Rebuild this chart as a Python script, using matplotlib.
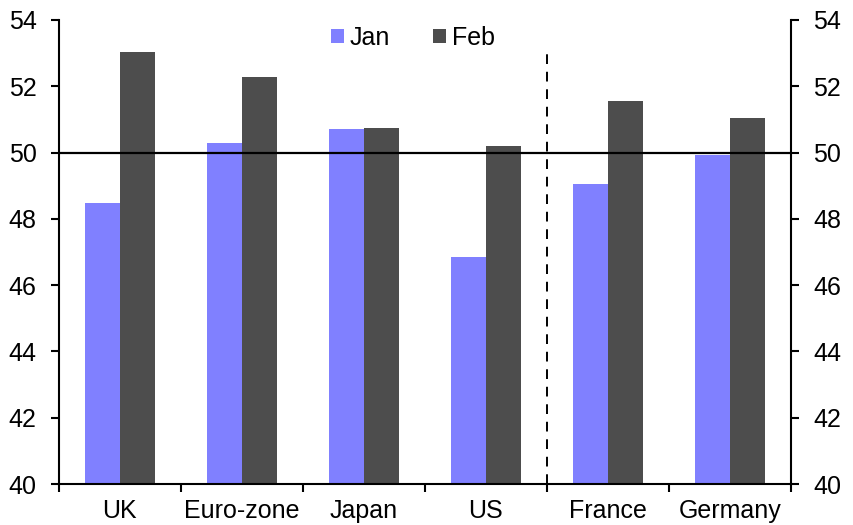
import numpy as np
import matplotlib.pyplot as plt

plt.rcParams['font.family'] = ['Liberation Sans', 'DejaVu Sans']

# data
countries = ["UK", "Euro-zone", "Japan", "US", "France", "Germany"]
jan = [48.48, 50.29, 50.71, 46.85, 49.05, 49.93]
feb = [53.03, 52.28, 50.74, 50.2, 51.56, 51.04]

jan_color = "#8080FF"
feb_color = "#4D4D4D"

fig = plt.figure(figsize=(8.54, 5.25), dpi=100)
ax = fig.add_axes([0.069, 0.078, 0.857, 0.884])

x = np.arange(len(countries))
w = 0.285
ax.bar(x - w/2, jan, w, color=jan_color, label="Jan", zorder=2)
ax.bar(x + w/2, feb, w, color=feb_color, label="Feb", zorder=2)

ax.set_xlim(-0.5, len(countries) - 0.5)
ax.set_ylim(40, 54)
ax.set_yticks(np.arange(40, 55, 2))

# 50 line and divider
ax.axhline(50, color="black", lw=1.6, zorder=3)
ax.plot([3.5, 3.5], [40, 53.15], color="black", lw=1.4, ls=(0, (5, 4)), zorder=3)

# ticks
ax.set_xticks(x)
ax.set_xticklabels(countries, fontsize=18)
ax.tick_params(axis="x", which="major", length=0, pad=11)
ax.set_xticks(np.arange(-0.5, len(countries), 1), minor=True)
ax.tick_params(axis="x", which="minor", length=6, width=1.5, direction="out")
ax.tick_params(axis="y", length=6, width=1.5, direction="out", labelsize=18,
               right=True, labelright=True, pad=10)

for side in ["left", "right", "bottom"]:
    ax.spines[side].set_linewidth(1.5)
ax.spines["top"].set_visible(False)

ax.legend(loc="center", bbox_to_anchor=(413 / 854, 1 - 38 / 525),
          bbox_transform=fig.transFigure, ncol=2, frameon=False,
          fontsize=18, handlelength=0.52, handleheight=0.52, handletextpad=0.25,
          columnspacing=1.7)

fig.savefig("out.png", dpi=100)
